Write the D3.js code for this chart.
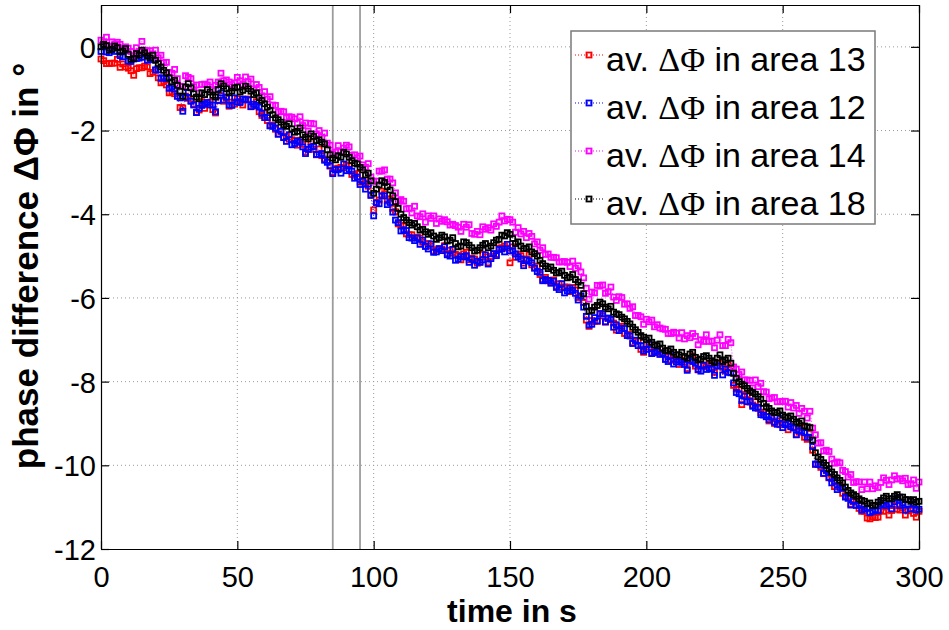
<!DOCTYPE html>
<html><head><meta charset="utf-8">
<script src="https://cdn.jsdelivr.net/npm/d3@7"></script>
<style>
body{margin:0;background:#fff}
svg{display:block}
text{font-family:"Liberation Sans",Arial,Helvetica,sans-serif}
</style>
</head><body>
<svg id="c" width="949" height="630"></svg>
<script>
// time samples (s), one per second
const time = d3.range(0, 301, 1);

// av. ΔΦ in area 13 (red)
const area13 = [
 -0.29,-0.33,-0.40,-0.40,-0.39,-0.39,-0.30,-0.49,-0.41,-0.48,-0.51,-0.57,-0.68,-0.52,-0.50,-0.50,-0.46,-0.48,-0.64,-0.61,
 -0.56,-0.74,-0.86,-0.83,-0.91,-1.10,-1.07,-1.12,-1.18,-1.45,-1.46,-1.18,-1.23,-1.29,-1.37,-1.57,-1.51,-1.31,-1.47,-1.38,
 -1.32,-1.50,-1.58,-1.29,-1.17,-1.30,-1.23,-1.42,-1.32,-1.37,-1.24,-1.30,-1.39,-1.25,-1.25,-1.43,-1.41,-1.31,-1.55,-1.64,
 -1.58,-1.76,-1.88,-1.87,-1.97,-2.08,-2.01,-2.16,-2.14,-2.21,-2.22,-2.24,-2.35,-2.23,-2.33,-2.51,-2.45,-2.27,-2.45,-2.58,
 -2.44,-2.60,-2.68,-2.71,-2.85,-3.00,-2.91,-2.90,-2.88,-2.89,-2.82,-2.84,-3.05,-3.07,-3.03,-3.23,-3.19,-3.25,-3.33,-3.54,
 -3.90,-3.72,-3.66,-3.45,-3.51,-3.68,-3.63,-3.86,-3.94,-4.23,-4.26,-4.28,-4.47,-4.49,-4.49,-4.57,-4.55,-4.57,-4.67,-4.76,
 -4.70,-4.76,-4.88,-4.85,-4.83,-4.84,-4.75,-4.94,-4.86,-4.93,-4.96,-4.98,-5.09,-4.95,-4.91,-5.09,-5.05,-5.07,-5.17,-5.14,
 -4.96,-5.02,-5.16,-5.01,-4.95,-4.96,-4.81,-4.80,-4.76,-4.81,-5.16,-4.78,-5.03,-4.95,-4.99,-5.17,-5.07,-4.97,-5.21,-5.28,
 -5.24,-5.44,-5.56,-5.51,-5.59,-5.62,-5.57,-5.72,-5.66,-5.75,-5.74,-5.74,-5.85,-5.75,-5.81,-5.99,-5.97,-6.11,-6.53,-6.68,
 -6.54,-6.56,-6.56,-6.37,-6.43,-6.58,-6.49,-6.52,-6.60,-6.77,-6.68,-6.68,-6.85,-6.87,-6.87,-7.07,-7.03,-7.03,-7.23,-7.30,
 -7.12,-7.18,-7.32,-7.27,-7.31,-7.34,-7.31,-7.46,-7.40,-7.49,-7.46,-7.46,-7.59,-7.49,-7.53,-7.69,-7.49,-7.39,-7.63,-7.72,
 -7.58,-7.62,-7.64,-7.59,-7.67,-7.78,-7.55,-7.56,-7.66,-7.75,-7.60,-7.66,-8.09,-8.17,-8.19,-8.55,-8.31,-8.31,-8.49,-8.56,
 -8.48,-8.64,-8.74,-8.73,-8.83,-8.94,-8.87,-9.00,-8.94,-9.03,-9.02,-9.00,-9.15,-9.07,-9.09,-9.27,-9.21,-9.09,-9.33,-9.38,
 -9.24,-9.64,-9.98,-9.97,-10.05,-10.20,-10.13,-10.30,-10.32,-10.51,-10.48,-10.48,-10.67,-10.73,-10.75,-10.93,-10.87,-10.85,-11.03,-11.10,
 -11.10,-11.26,-11.28,-11.23,-11.25,-11.24,-11.07,-11.10,-11.00,-11.19,-11.08,-10.96,-11.05,-11.07,-11.01,-11.19,-11.09,-11.07,-11.15,-11.24,
 -11.10];

// av. ΔΦ in area 12 (blue)
const area12 = [
 -0.11,0.03,-0.12,-0.14,-0.07,-0.11,-0.02,-0.21,-0.24,-0.08,-0.34,-0.35,-0.29,-0.28,-0.27,-0.25,-0.17,-0.32,-0.28,-0.31,
 -0.55,-0.55,-0.75,-0.74,-0.76,-0.99,-0.96,-1.01,-1.18,-1.22,-1.54,-1.21,-1.09,-1.30,-1.39,-1.57,-1.47,-1.40,-1.36,-1.33,
 -1.39,-1.39,-1.55,-1.28,-1.10,-1.27,-1.20,-1.39,-1.40,-1.22,-1.32,-1.33,-1.25,-1.26,-1.27,-1.43,-1.37,-1.40,-1.44,-1.59,
 -1.69,-1.69,-1.89,-1.90,-1.94,-2.09,-2.02,-2.17,-2.26,-2.10,-2.34,-2.31,-2.25,-2.28,-2.39,-2.55,-2.45,-2.40,-2.38,-2.57,
 -2.57,-2.55,-2.71,-2.76,-2.84,-3.03,-2.94,-2.93,-3.02,-2.80,-2.96,-2.93,-2.97,-3.14,-3.11,-3.29,-3.21,-3.40,-3.28,-3.55,
 -4.04,-3.73,-3.75,-3.56,-3.56,-3.77,-3.72,-3.95,-4.14,-4.20,-4.40,-4.37,-4.39,-4.56,-4.57,-4.63,-4.57,-4.72,-4.62,-4.77,
 -4.83,-4.71,-4.91,-4.90,-4.82,-4.87,-4.78,-4.97,-5.00,-4.84,-5.10,-5.07,-5.01,-5.02,-4.99,-5.15,-5.07,-5.22,-5.12,-5.15,
 -5.09,-4.97,-5.19,-5.06,-4.94,-4.99,-4.84,-4.83,-4.90,-4.72,-4.88,-4.87,-4.95,-5.02,-5.07,-5.23,-5.09,-5.12,-5.16,-5.29,
 -5.37,-5.39,-5.59,-5.56,-5.58,-5.65,-5.60,-5.75,-5.80,-5.66,-5.88,-5.83,-5.77,-5.82,-5.89,-6.05,-5.95,-6.22,-6.44,-6.65,
 -6.63,-6.47,-6.55,-6.38,-6.38,-6.57,-6.48,-6.51,-6.70,-6.64,-6.78,-6.73,-6.73,-6.90,-6.91,-7.09,-7.01,-7.14,-7.14,-7.27,
 -7.23,-7.11,-7.33,-7.30,-7.28,-7.35,-7.32,-7.47,-7.52,-7.38,-7.58,-7.53,-7.49,-7.54,-7.59,-7.73,-7.49,-7.52,-7.56,-7.71,
 -7.75,-7.61,-7.71,-7.68,-7.70,-7.85,-7.62,-7.63,-7.84,-7.70,-7.78,-7.79,-8.03,-8.26,-8.29,-8.45,-8.35,-8.48,-8.46,-8.59,
 -8.63,-8.61,-8.79,-8.80,-8.84,-8.91,-8.84,-8.97,-9.02,-8.88,-9.10,-9.03,-9.01,-9.08,-9.11,-9.27,-9.17,-9.18,-9.22,-9.33,
 -9.33,-9.55,-9.97,-9.98,-10.00,-10.19,-10.12,-10.29,-10.42,-10.38,-10.58,-10.53,-10.55,-10.76,-10.79,-10.95,-10.85,-10.96,-10.94,-11.07,
 -11.05,-11.03,-11.13,-11.10,-11.06,-11.09,-10.92,-10.95,-10.96,-10.92,-11.04,-10.87,-10.79,-10.96,-10.91,-11.07,-10.93,-11.04,-10.92,-11.07,
 -11.05];

// av. ΔΦ in area 14 (magenta)
const area14 = [
 0.16,0.12,0.23,0.02,0.12,0.07,0.11,0.06,-0.02,0.00,-0.03,-0.11,-0.21,-0.02,-0.11,0.13,-0.08,-0.10,-0.09,-0.17,
 -0.08,-0.26,-0.20,-0.38,-0.37,-0.61,-0.63,-0.54,-0.76,-0.94,-0.95,-0.69,-0.73,-0.76,-0.95,-0.91,-1.10,-0.90,-0.89,-0.91,
 -0.84,-1.02,-0.92,-0.84,-0.63,-0.81,-0.79,-0.84,-0.90,-0.86,-0.73,-0.81,-0.89,-0.72,-0.83,-0.77,-1.00,-0.90,-0.97,-1.17,
 -1.07,-1.25,-1.19,-1.39,-1.40,-1.56,-1.54,-1.55,-1.69,-1.67,-1.68,-1.72,-1.82,-1.67,-1.88,-1.82,-2.01,-1.83,-1.84,-2.08,
 -2.00,-2.16,-2.06,-2.30,-2.35,-2.55,-2.51,-2.36,-2.50,-2.42,-2.35,-2.39,-2.59,-2.58,-2.65,-2.61,-2.82,-2.88,-2.79,-3.11,
 -3.21,-3.21,-2.97,-2.97,-2.94,-3.16,-3.16,-3.25,-3.49,-3.69,-3.65,-3.69,-3.87,-3.86,-3.97,-3.81,-4.04,-4.06,-3.99,-4.19,
 -4.04,-4.10,-4.04,-4.22,-4.11,-4.17,-4.13,-4.18,-4.26,-4.24,-4.27,-4.31,-4.41,-4.24,-4.31,-4.25,-4.46,-4.48,-4.41,-4.49,
 -4.30,-4.36,-4.32,-4.38,-4.23,-4.29,-4.19,-4.04,-4.16,-4.12,-4.13,-4.19,-4.43,-4.32,-4.47,-4.41,-4.56,-4.46,-4.53,-4.71,
 -4.66,-4.86,-4.80,-4.96,-4.95,-5.03,-5.03,-5.04,-5.14,-5.14,-5.13,-5.15,-5.25,-5.12,-5.29,-5.23,-5.38,-5.52,-5.77,-6.03,
 -5.86,-5.88,-5.70,-5.72,-5.69,-5.89,-5.85,-5.74,-5.98,-6.06,-5.97,-5.99,-6.15,-6.14,-6.25,-6.21,-6.42,-6.42,-6.45,-6.63,
 -6.51,-6.57,-6.53,-6.69,-6.64,-6.72,-6.74,-6.75,-6.85,-6.85,-6.82,-6.84,-6.96,-6.83,-6.98,-6.90,-6.95,-6.85,-6.92,-7.12,
 -7.00,-7.04,-6.88,-7.04,-7.03,-7.19,-7.01,-6.88,-7.14,-7.14,-6.99,-7.07,-7.65,-7.70,-7.83,-7.77,-7.96,-7.96,-7.97,-8.15,
 -7.96,-8.12,-8.04,-8.24,-8.25,-8.41,-8.39,-8.38,-8.48,-8.48,-8.47,-8.47,-8.61,-8.50,-8.63,-8.57,-8.76,-8.64,-8.71,-8.87,
 -8.71,-9.11,-9.27,-9.47,-9.46,-9.66,-9.64,-9.67,-9.85,-9.95,-9.92,-9.94,-10.12,-10.15,-10.28,-10.22,-10.41,-10.39,-10.40,-10.58,
 -10.40,-10.56,-10.40,-10.56,-10.49,-10.53,-10.41,-10.30,-10.36,-10.46,-10.35,-10.25,-10.33,-10.32,-10.37,-10.31,-10.46,-10.44,-10.35,-10.55,
 -10.40];

// av. ΔΦ in area 18 (black)
const area18 = [
 0.00,0.06,0.03,-0.08,-0.05,0.02,-0.02,-0.12,-0.10,-0.04,-0.18,-0.30,-0.28,-0.16,-0.20,-0.08,-0.14,-0.22,-0.26,-0.20,
 -0.32,-0.40,-0.48,-0.56,-0.62,-0.74,-0.84,-0.80,-0.92,-1.06,-1.18,-0.96,-0.88,-0.98,-1.12,-1.20,-1.24,-1.10,-1.14,-1.02,
 -1.08,-1.16,-1.20,-1.02,-0.88,-0.94,-1.00,-1.10,-1.06,-0.98,-0.96,-1.08,-1.04,-0.94,-1.00,-1.06,-1.14,-1.10,-1.22,-1.28,
 -1.36,-1.44,-1.52,-1.62,-1.70,-1.74,-1.80,-1.86,-1.90,-1.84,-1.96,-2.04,-2.02,-1.94,-2.10,-2.16,-2.20,-2.08,-2.14,-2.24,
 -2.22,-2.28,-2.32,-2.46,-2.58,-2.66,-2.70,-2.60,-2.64,-2.52,-2.56,-2.64,-2.72,-2.78,-2.80,-2.88,-2.94,-3.06,-3.02,-3.20,
 -3.50,-3.40,-3.30,-3.20,-3.24,-3.34,-3.42,-3.56,-3.70,-3.86,-4.00,-4.08,-4.14,-4.20,-4.26,-4.22,-4.30,-4.38,-4.36,-4.42,
 -4.48,-4.44,-4.52,-4.60,-4.56,-4.50,-4.54,-4.64,-4.62,-4.56,-4.70,-4.78,-4.76,-4.66,-4.68,-4.74,-4.80,-4.88,-4.86,-4.80,
 -4.74,-4.70,-4.80,-4.76,-4.68,-4.62,-4.60,-4.50,-4.52,-4.44,-4.48,-4.58,-4.70,-4.66,-4.76,-4.82,-4.82,-4.78,-4.90,-4.94,
 -5.00,-5.10,-5.18,-5.24,-5.30,-5.26,-5.34,-5.40,-5.40,-5.36,-5.46,-5.52,-5.50,-5.44,-5.56,-5.62,-5.70,-5.90,-6.20,-6.32,
 -6.30,-6.22,-6.18,-6.10,-6.14,-6.22,-6.26,-6.20,-6.34,-6.38,-6.40,-6.46,-6.50,-6.56,-6.62,-6.70,-6.76,-6.82,-6.90,-6.94,
 -7.00,-6.96,-7.06,-7.12,-7.14,-7.10,-7.20,-7.26,-7.26,-7.22,-7.30,-7.36,-7.36,-7.30,-7.40,-7.44,-7.34,-7.30,-7.42,-7.48,
 -7.46,-7.40,-7.38,-7.44,-7.50,-7.54,-7.44,-7.36,-7.52,-7.48,-7.44,-7.56,-7.80,-7.92,-8.00,-8.06,-8.10,-8.16,-8.22,-8.26,
 -8.30,-8.36,-8.42,-8.52,-8.60,-8.64,-8.70,-8.74,-8.74,-8.70,-8.80,-8.84,-8.86,-8.82,-8.90,-8.96,-9.00,-8.94,-9.06,-9.08,
 -9.10,-9.40,-9.70,-9.80,-9.86,-9.94,-10.00,-10.08,-10.16,-10.22,-10.30,-10.36,-10.42,-10.52,-10.60,-10.66,-10.70,-10.74,-10.80,-10.84,
 -10.86,-10.92,-10.90,-10.96,-10.96,-10.88,-10.84,-10.78,-10.74,-10.80,-10.80,-10.74,-10.70,-10.76,-10.76,-10.82,-10.82,-10.86,-10.82,-10.88,
 -10.86];

const seriesLabels = ["13", "12", "14", "18"];
const seriesColors = ["#ff0000", "#0000ff", "#ff00ff", "#000000"];
const seriesValues = [area13, area12, area14, area18];
const xTicks = [0, 50, 100, 150, 200, 250, 300];
const yTicks = [0, -2, -4, -6, -8, -10, -12];
const markerTimes = [85, 95];

const svg = d3.select("#c");
const M = {l: 101, r: 919, t: 5, b: 549};
const x = d3.scaleLinear().domain([0, 300]).range([M.l, M.r]);
const y = d3.scaleLinear().domain([-12, 1]).range([M.b, M.t]);

// grid
const grid = svg.append("g").attr("stroke", "#9a9a9a").attr("stroke-width", 1).attr("stroke-dasharray", "1,3");
xTicks.filter(v => v > 0 && v < 300).forEach(v => {
  grid.append("line").attr("x1", x(v)).attr("x2", x(v)).attr("y1", M.t).attr("y2", M.b);
});
yTicks.filter(v => v > -12).forEach(v => {
  grid.append("line").attr("x1", M.l).attr("x2", M.r).attr("y1", y(v)).attr("y2", y(v));
});

// vertical markers
markerTimes.forEach(v => {
  svg.append("line").attr("x1", x(v)).attr("x2", x(v)).attr("y1", M.t).attr("y2", M.b)
    .attr("stroke", "#9c9c9c").attr("stroke-width", 1.8);
});

// series
const plot = svg.append("g");
seriesValues.forEach((vals, i) => {
  const pts = time.map((t, j) => [t, vals[j]]).filter(d => d[1] !== undefined);
  const line = d3.line().x(d => x(d[0])).y(d => y(d[1]));
  plot.append("path").attr("d", line(pts)).attr("fill", "none")
    .attr("stroke", seriesColors[i]).attr("stroke-width", 0.8).attr("stroke-dasharray", "1,2");
  const s = 5;
  plot.append("g").selectAll("rect").data(pts).join("rect")
    .attr("x", d => x(d[0]) - s / 2).attr("y", d => y(d[1]) - s / 2)
    .attr("width", s).attr("height", s)
    .attr("fill", "none").attr("stroke", seriesColors[i]).attr("stroke-width", 1.8);
});

// axes
const axG = svg.append("g");
const axBottom = axG.append("g").attr("transform", `translate(0,${M.b})`)
  .call(d3.axisBottom(x).tickValues(xTicks).tickSize(-8).tickSizeOuter(0).tickPadding(17).tickFormat(d3.format("d")));
const axLeft = axG.append("g").attr("transform", `translate(${M.l},0)`)
  .call(d3.axisLeft(y).tickValues(yTicks).tickSize(-8).tickSizeOuter(0).tickPadding(5).tickFormat(d => String(d)));
const axTop = axG.append("g").attr("transform", `translate(0,${M.t})`)
  .call(d3.axisTop(x).tickValues(xTicks).tickSize(-8).tickSizeOuter(0).tickFormat(""));
const axRight = axG.append("g").attr("transform", `translate(${M.r},0)`)
  .call(d3.axisRight(y).tickValues(yTicks).tickSize(-8).tickSizeOuter(0).tickFormat(""));
axG.selectAll("text").attr("fill", "#000").attr("font-family", "'Liberation Sans', Arial, sans-serif").attr("font-size", 29);
axG.selectAll(".domain").attr("stroke", "#000").attr("stroke-width", 1.2);
axG.selectAll(".tick line").attr("stroke", "#000").attr("stroke-width", 1.2);
axLeft.selectAll("text").attr("dy", "0.36em");

// axis labels
svg.append("text").attr("x", 512).attr("y", 622).attr("text-anchor", "middle")
  .attr("font-size", 32).attr("font-weight", "bold").text("time in s");
svg.append("text").attr("transform", "translate(38,266) rotate(-90)").attr("text-anchor", "middle")
  .attr("font-size", 35).attr("font-weight", "bold").text("phase difference ΔΦ in °");

// legend
const L = svg.append("g");
L.append("rect").attr("x", 571).attr("y", 31).attr("width", 304).attr("height", 193)
  .attr("fill", "#fff").attr("stroke", "#7a7a7a").attr("stroke-width", 1.5);
seriesLabels.forEach((lab, i) => {
  const cy = 55 + i * 48;
  L.append("line").attr("x1", 575).attr("x2", 603).attr("y1", cy).attr("y2", cy)
    .attr("stroke", seriesColors[i]).attr("stroke-width", 1).attr("stroke-dasharray", "1,2");
  L.append("rect").attr("x", 589 - 2.5).attr("y", cy - 2.5).attr("width", 5).attr("height", 5)
    .attr("fill", "none").attr("stroke", seriesColors[i]).attr("stroke-width", 1.8);
  const t = L.append("text").attr("x", 606).attr("y", cy + 16).attr("font-size", 34).attr("fill", "#000");
  t.append("tspan").text("av. ");
  t.append("tspan").attr("font-family", "'Liberation Serif','Times New Roman',serif").text("ΔΦ");
  t.append("tspan").text(" in area " + lab);
});
</script>
</body></html>
